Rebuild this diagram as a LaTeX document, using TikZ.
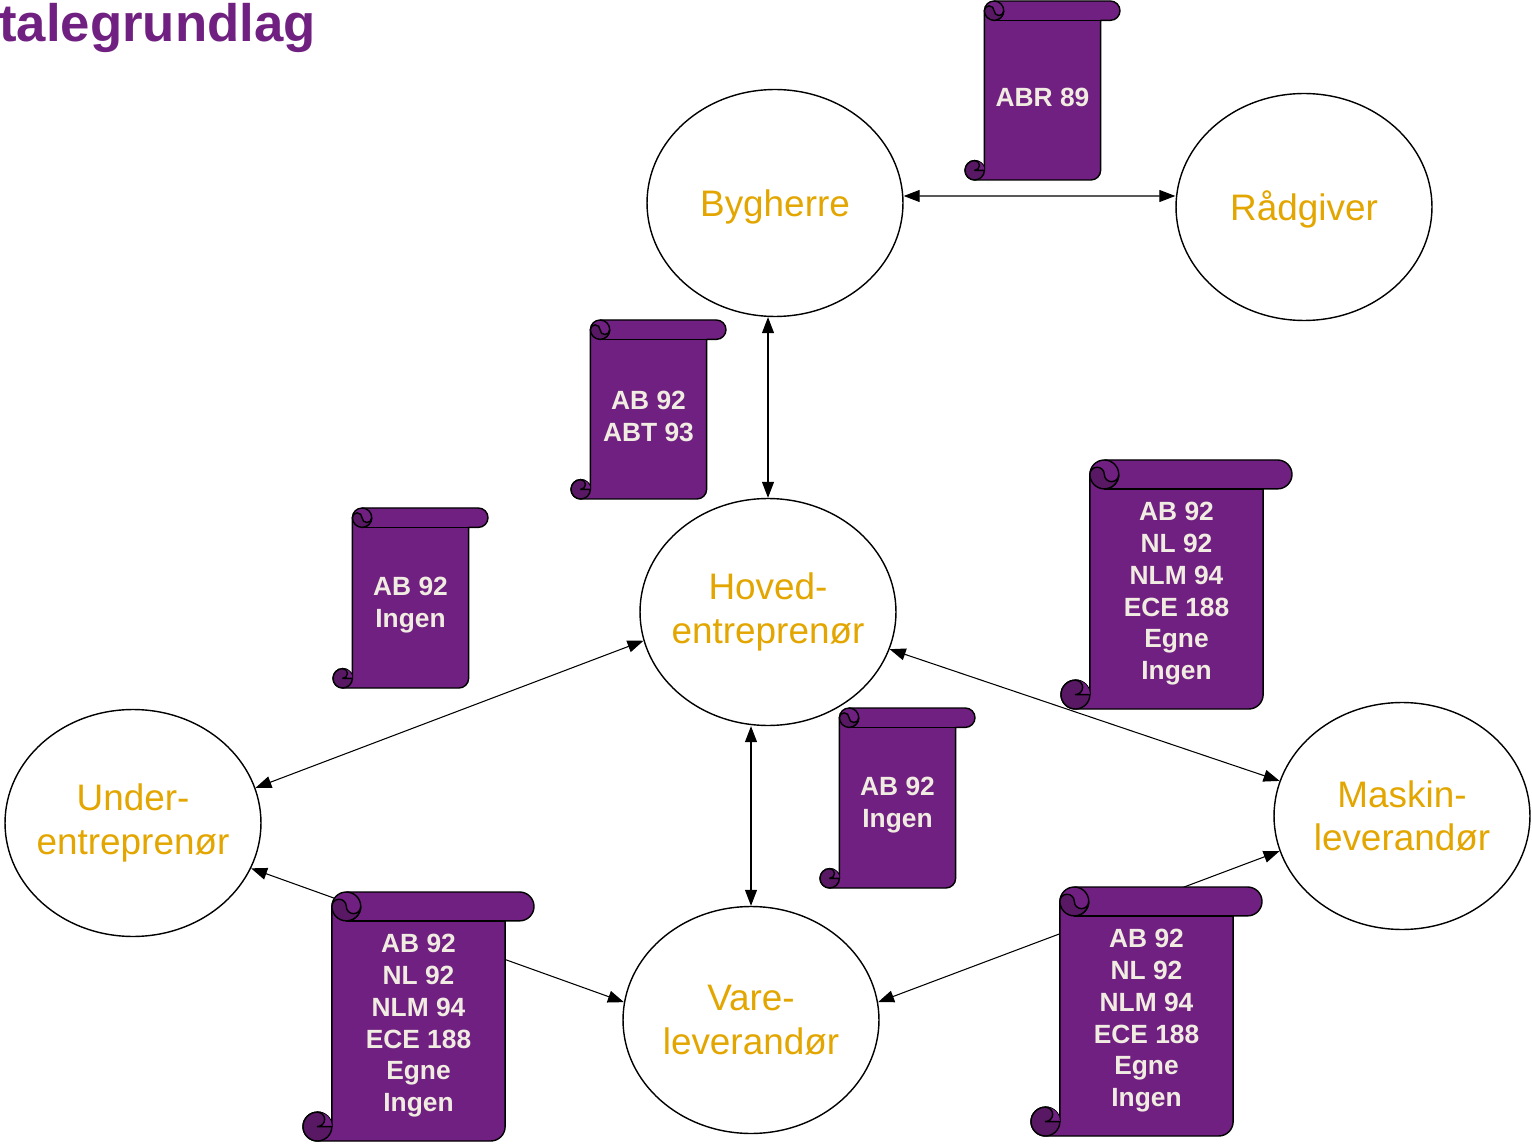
\documentclass[tikz,border=0pt]{standalone}
\usepackage{fontspec}
\setmainfont{Liberation Sans}
\usetikzlibrary{shapes.geometric, arrows.meta}
\definecolor{docpurple}{RGB}{112,32,128}
\definecolor{darkpurple}{RGB}{88,24,100}
\definecolor{partygold}{RGB}{227,166,0}
\definecolor{papertext}{RGB}{240,236,226}
\tikzset{
    > = {Triangle[length=0.32cm, width=0.24cm]},
    party/.style = {ellipse, draw, thick, fill=white, minimum width=5.12cm,
        minimum height=4.54cm, inner xsep=-1cm, inner ysep=-0.5cm, align=center,
        text=partygold, font=\fontsize{21}{25}\selectfont,
        execute at begin node={\rule{0pt}{20pt}}},
    scrollline/.style = {thick, line join=round},
    scrolltext/.style = {text=papertext, font=\bfseries\fontsize{15}{18.1}\selectfont,
        align=center, inner sep=0pt},
    link/.style = {<->, semithick},
    title/.style = {anchor=base west, inner sep=0pt, text=docpurple,
        font=\bfseries\fontsize{30}{36}\selectfont}
}
% #1 name, #2 left, #3 top, #4 width, #5 height, #6 text
\newcommand{\scrolldoc}[6]{%
  \pgfmathsetmacro{\sra}{min(#4,#5)/8}%
  \pgfmathsetmacro{\srb}{\sra/2}%
  \pgfmathsetmacro{\src}{\sra/4}%
  \begin{scope}[shift={(#2,#3)}]
    \draw[scrollline, fill=docpurple]
      (\sra+\srb,0) -- (#4-\srb,0) arc[start angle=-90, end angle=90, radius=\srb]
      -- (#4-\sra,\sra) -- (#4-\sra,#5-\srb) arc[start angle=0, end angle=90, radius=\srb]
      -- (\srb,#5) arc[start angle=90, end angle=360, radius=\srb]
      -- (\sra,\srb) arc[start angle=180, end angle=270, radius=\srb] -- cycle;
    \draw[scrollline] (\sra+\srb,0) arc[start angle=-90, end angle=90, radius=\srb];
    \draw[scrollline] (\sra+\srb,\sra) -- (#4-\sra,\sra);
    \draw[scrollline, fill=darkpurple] (2*\sra,\srb) arc[start angle=0, end angle=180, radius=\srb]
      arc[start angle=180, end angle=360, radius=\src]
      arc[start angle=180, end angle=0, radius=\src];
    \draw[scrollline, fill=darkpurple] (\srb,#5-\srb) circle[radius=\srb];
    \fill[docpurple] (\srb,#5-\sra) arc[start angle=-90, end angle=90, radius=\src]
      -- (\sra,#5-\srb) arc[start angle=0, end angle=-90, radius=\srb] -- cycle;
    \draw[scrollline] (\srb,#5-\sra) arc[start angle=-90, end angle=90, radius=\src] -- (\sra,#5-\srb);
    \node[scrolltext] (#1) at (#4/2, {(\sra+#5-\srb)/2+2}) {#6};
  \end{scope}}

\begin{document}
\begin{tikzpicture}[x=0.02cm, y=-0.02cm]
    \useasboundingbox (0,0) rectangle (1532,1145);

    \node[title] (title) at (-1,42) {talegrundlag};

    \node[party] (byg) at (775,203) {Bygherre};
    \node[party] (rad) at (1304,207) {Rådgiver};
    \node[party] (hoved) at (768,612) {Hoved-\\entreprenør};
    \node[party] (under) at (133,823) {Under-\\entreprenør};
    \node[party] (maskin) at (1402,816) {Maskin-\\leverandør};
    \node[party] (vare) at (751,1020) {Vare-\\leverandør};

    \draw[link] ([yshift=0.14cm]byg.east) -- ([yshift=0.22cm]rad.west);
    \draw[link] (hoved.north) -- (hoved.north |- byg.south);
    \draw[link] (vare.north) -- (vare.north |- hoved.south);
    \draw[link] (hoved.193) -- (under.16);
    \draw[link] (hoved.-17) -- (maskin.164);
    \draw[link] (under.-21) -- (vare.172);
    \draw[link] (maskin.196) -- (vare.8);

    \scrolldoc{abr}{965}{1}{155}{179}{ABR 89}
    \scrolldoc{abt}{571}{320}{155}{179}{AB 92\\ABT 93}
    \scrolldoc{ue}{333}{508}{155}{180}{AB 92\\Ingen}
    \scrolldoc{vl}{820}{708}{155}{180}{AB 92\\Ingen}
    \scrolldoc{ml}{1061}{460}{231}{249}{AB 92\\NL 92\\NLM 94\\ECE 188\\Egne\\Ingen}
    \scrolldoc{uv}{303}{892}{231}{249}{AB 92\\NL 92\\NLM 94\\ECE 188\\Egne\\Ingen}
    \scrolldoc{mv}{1031}{887}{231}{249}{AB 92\\NL 92\\NLM 94\\ECE 188\\Egne\\Ingen}
\end{tikzpicture}
\end{document}
